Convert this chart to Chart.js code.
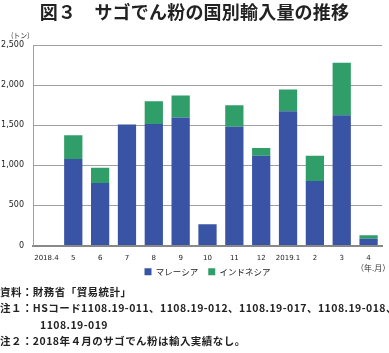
<!DOCTYPE html>
<html><head><meta charset="utf-8">
<script src="https://cdn.jsdelivr.net/npm/chart.js@4/dist/chart.umd.min.js"></script>
<style>
html,body{margin:0;padding:0;background:#fff;}
#wrap{position:relative;width:389px;height:353px;overflow:hidden;font-family:"Noto Sans CJK JP","Noto Sans",sans-serif;color:#222;}
#title{position:absolute;left:0;top:0;width:389px;text-align:center;font-size:18px;font-weight:bold;line-height:22px;letter-spacing:0.2px;}
#unit{position:absolute;left:11px;top:30px;font-size:7px;color:#333;}
#ym{position:absolute;left:356px;top:262px;font-size:8px;color:#333;}
#cv{position:absolute;left:0;top:0;}
#notes{position:absolute;left:0;top:284px;font-size:10.5px;font-weight:bold;line-height:16.4px;white-space:nowrap;color:#222;letter-spacing:0.45px;}
#notes .ind{padding-left:40px;}
</style></head>
<body><div id="wrap">
<canvas id="cv" width="389" height="294"></canvas>
<div id="title">図３　サゴでん粉の国別輸入量の推移</div>
<div id="unit">(トン)</div>
<div id="ym">（年.月）</div>
<div id="notes">資料：財務省「貿易統計」<br>注１：HSコード1108.19-011、1108.19-012、1108.19-017、1108.19-018、<br><span class="ind">1108.19-019</span><br>注２：2018年４月のサゴでん粉は輸入実績なし。</div>
</div>
<script>
const categories = ["2018.4","5","6","7","8","9","10","11","12","2019.1","2","3","4"];
const malaysia  = [0,1080,780,1510,1515,1595,265,1480,1120,1675,805,1625,85];
const indonesia = [0,295,190,0,285,275,0,270,97,270,313,655,42];
const seriesNames = ["マレーシア","インドネシア"];
const yTicks = [0,500,1000,1500,2000,2500];

const legendShift = {
  id: 'legendShift',
  afterLayout(chart) {
    const lg = chart.legend;
    if (lg) { lg.top -= 8; lg.bottom -= 8; }
  }
};

new Chart(document.getElementById('cv'), {
  type: 'bar',
  data: {
    labels: categories,
    datasets: [
      {label: seriesNames[0], data: malaysia, backgroundColor: '#3953a5', borderWidth: 0},
      {label: seriesNames[1], data: indonesia, backgroundColor: '#2f9e68', borderWidth: 0}
    ]
  },
  plugins: [legendShift],
  options: {
    responsive: false,
    devicePixelRatio: 1,
    animation: false,
    layout: {padding: {left: 0, right: 7, top: 45, bottom: 0}},
    datasets: {bar: {categoryPercentage: 1, barPercentage: 0.68}},
    plugins: {
      title: {display: false},
      tooltip: {enabled: false},
      legend: {
        position: 'bottom',
        fullSize: false,
        labels: {
          boxWidth: 7, boxHeight: 7, padding: 10,
          color: '#222',
          font: {family: '"Noto Sans CJK JP"', size: 8.5}
        }
      }
    },
    scales: {
      x: {
        stacked: true,
        grid: {display: false, drawTicks: false},
        border: {color: '#888', width: 2},
        ticks: {color: '#222', font: {family: '"DejaVu Sans"', size: 7}, padding: 8, maxRotation: 0, autoSkip: false},
        afterFit: (s) => { s.height = 20; }
      },
      y: {
        stacked: true,
        min: 0, max: 2500,
        afterBuildTicks: (s) => { s.ticks = yTicks.map(v => ({value: v})); },
        grid: {color: '#a0a0a0', lineWidth: 1, drawTicks: false},
        border: {display: true, color: '#a0a0a0', width: 1},
        ticks: {color: '#222', font: {family: '"DejaVu Sans"', size: 8}, padding: 9,
          callback: (v) => v.toLocaleString('en-US')},
        afterFit: (s) => { s.width = 33; }
      }
    }
  }
});
</script>
</body></html>
